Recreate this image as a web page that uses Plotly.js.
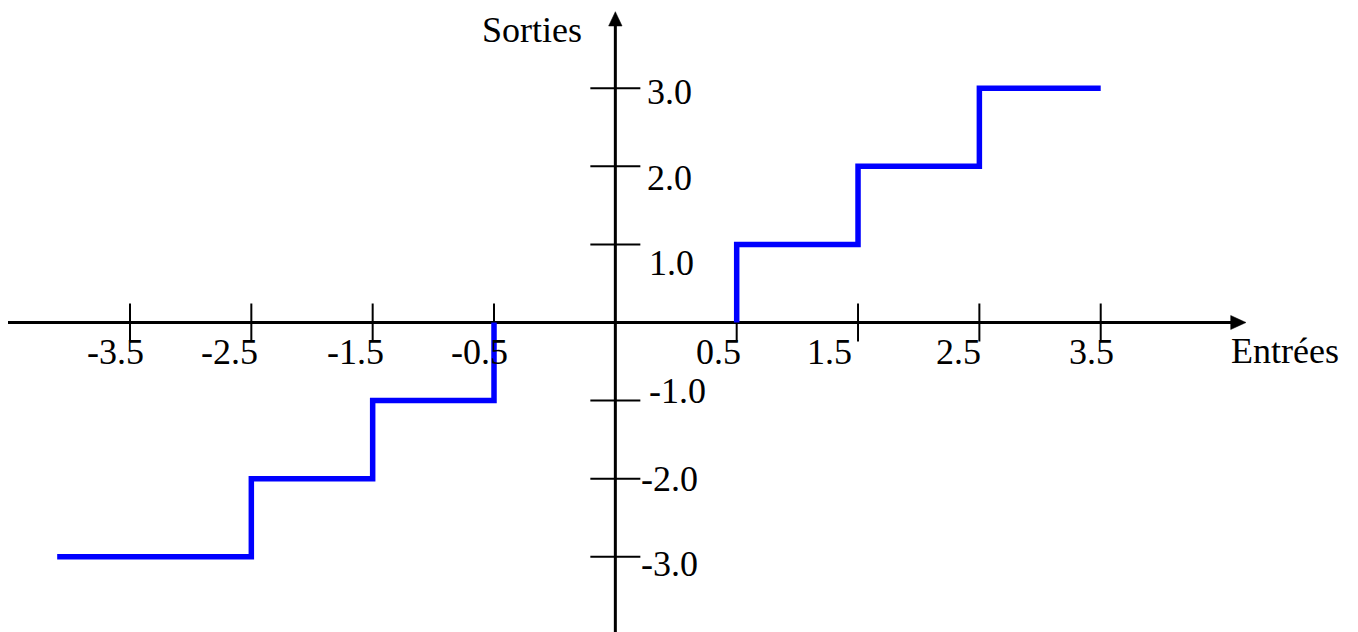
<!DOCTYPE html>
<html>
<head>
<meta charset="utf-8">
<script src="https://cdn.plot.ly/plotly-3.0.1.min.js"></script>
<style>html,body{margin:0;padding:0;background:#fff;}#chart{width:1358px;height:632px;}</style>
</head>
<body>
<div id="chart"></div>
<script>
// ---- data ----
const inputNeg = [-4.1, -2.5, -1.5, -0.5];   // Entrées, negative branch (step edges)
const outputNeg = [-3, -2, -1, 0];           // Sorties reached after each edge
const inputPos = [0.5, 1.5, 2.5, 3.5];       // Entrées, positive branch
const outputPos = [0, 1, 2, 3];
const xTickValues = [-3.5, -2.5, -1.5, -0.5, 0.5, 1.5, 2.5, 3.5];
const yTickValues = [-3, -2, -1, 1, 2, 3];
const xTitle = 'Entrées';
const yTitle = 'Sorties';

// ---- layout helpers ----
// the drawing leaves a gap of one unit around the origin on the input axis
function placeX(v) { return v + 0.5 * Math.sign(v); }
const W = 1358, H = 632;
const X0 = 615.35, XU = 121.34, Y0 = 322.5, YU = 78.07;
const xRange = [-X0 / XU, (W - X0) / XU];
const yRange = [(Y0 - H) / YU, Y0 / YU];
const xAxisStart = (8 - X0) / XU, xAxisTip = (1246 - X0) / XU;
const yAxisStart = yRange[0] - 0.2, yAxisTip = (Y0 - 11.7) / YU;
const FONT = {family: '"Liberation Serif", "Times New Roman", serif', size: 36, color: '#000'};
const xLabelShift = [16, 9, 13, 16, 6, -4, 4, 15];
const yLabelDx = [24, 24, 32, 32, 30, 30];
const yLabelDy = [-7, 0, 10, -19, -12, -4];

const traces = [
  {x: [xAxisStart, xAxisTip - 10 / XU], y: [0, 0], mode: 'lines', line: {color: '#000', width: 3}},
  {x: [0, 0], y: [yAxisStart, yAxisTip - 10 / YU], mode: 'lines', line: {color: '#000', width: 3}},
  {x: xTickValues.map(placeX), y: xTickValues.map(() => 0), mode: 'markers',
   marker: {symbol: 'line-ns', size: 38 / 1.4, line: {color: '#000', width: 2}}},
  {x: yTickValues.map(() => 0), y: yTickValues, mode: 'markers',
   marker: {symbol: 'line-ew', size: 50 / 1.4, line: {color: '#000', width: 2}}},
  {x: inputNeg.map(placeX), y: outputNeg, mode: 'lines', line: {color: '#0000ff', width: 5.5, shape: 'hv'}},
  {x: inputPos.map(placeX), y: outputPos, mode: 'lines', line: {color: '#0000ff', width: 5.5, shape: 'vh'}}
];

const annotations = [];
xTickValues.forEach((v, i) => annotations.push({
  x: placeX(v), y: 0, xref: 'x', yref: 'y', text: v.toFixed(1), showarrow: false,
  xanchor: 'right', yanchor: 'middle', xshift: xLabelShift[i], yshift: -29.5, font: FONT
}));
yTickValues.forEach((v, i) => annotations.push({
  x: 0, y: v, xref: 'x', yref: 'y', text: v.toFixed(1), showarrow: false,
  xanchor: 'left', yanchor: 'middle', xshift: yLabelDx[i], yshift: yLabelDy[i], font: FONT
}));
annotations.push({x: 480 / W, y: 1 - 7.7 / H, xref: 'paper', yref: 'paper', text: yTitle,
  showarrow: false, xanchor: 'left', yanchor: 'top', font: FONT});
annotations.push({x: 1229 / W, y: 1 - 328.7 / H, xref: 'paper', yref: 'paper', text: xTitle,
  showarrow: false, xanchor: 'left', yanchor: 'top', font: FONT});

// arrow heads (pixel-sized, anchored at the axis tips)
const shapes = [
  {type: 'path', xref: 'x', yref: 'y', xsizemode: 'pixel', ysizemode: 'pixel',
   xanchor: xAxisTip, yanchor: 0, path: 'M0,0 L-15.3,7 L-15.3,-7 Z',
   fillcolor: '#000', line: {color: '#000', width: 0.5}},
  {type: 'path', xref: 'x', yref: 'y', xsizemode: 'pixel', ysizemode: 'pixel',
   xanchor: 0, yanchor: yAxisTip, path: 'M0,0 L-6.7,-14.3 L6.7,-14.3 Z',
   fillcolor: '#000', line: {color: '#000', width: 0.5}}
];

const layout = {
  width: W, height: H, autosize: false,
  margin: {l: 0, r: 0, t: 0, b: 0, pad: 0},
  paper_bgcolor: '#fff', plot_bgcolor: '#fff',
  showlegend: false, hovermode: false,
  xaxis: {range: xRange, visible: false, showgrid: false, zeroline: false, fixedrange: true},
  yaxis: {range: yRange, visible: false, showgrid: false, zeroline: false, fixedrange: true},
  annotations: annotations,
  shapes: shapes
};
Plotly.newPlot('chart', traces, layout, {staticPlot: true, displayModeBar: false});
</script>
</body>
</html>
